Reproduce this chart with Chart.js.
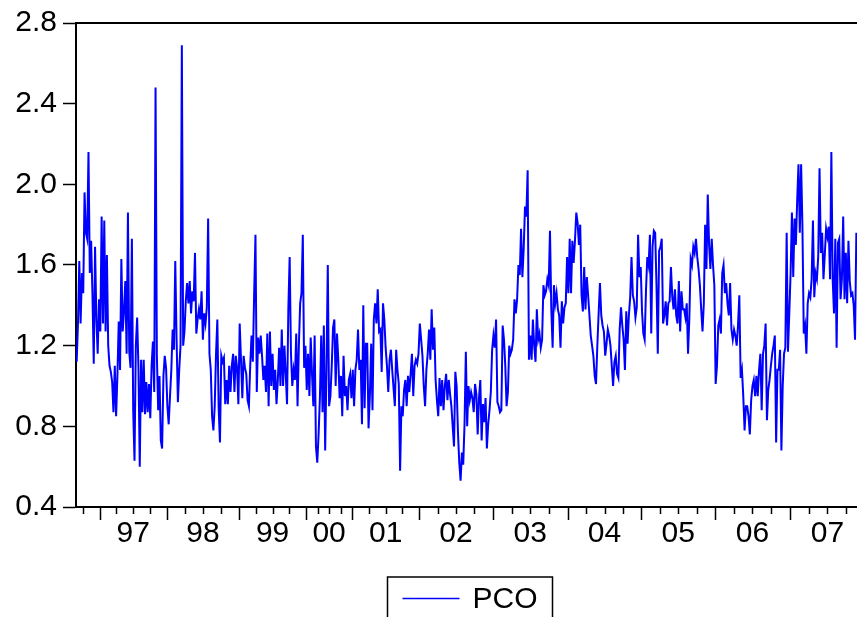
<!DOCTYPE html>
<html>
<head>
<meta charset="utf-8">
<script src="https://cdn.jsdelivr.net/npm/chart.js@4/dist/chart.umd.min.js"></script>
<style>
  html, body { margin: 0; padding: 0; background: #fff; }
</style>
</head>
<body>
<canvas id="myChart" width="857" height="617"></canvas>
<script>
// weekly PCO, one array per year (1996 and 2007 are partial)
var pco1996 = [1.12,1.31,1.62,1.31,1.56,1.46,1.96,1.76,1.73,2.16,1.56,1.72,1.46,1.11,1.69,1.33,1.16,1.43];
var pco1997 = [1.27,1.84,1.31,1.82,1.27,1.65,1.2,1.1,1.07,1.02,0.87,1.1,0.85,1.05,1.32,1.08,1.63,1.27,1.37,1.52,
  1.16,1.86,1.17,1.09,1.73,0.88,0.63,1.2,1.34,1.09,0.6,1.13,0.87,1.13,0.86,1.02,0.87,1.01,0.84,1.1,
  1.22,0.97,2.48,1.15,0.88,1.05,0.73,0.69,1.05,1.15,1.09];
var pco1998 = [0.9,0.81,0.95,1.08,1.28,1.18,1.62,1.23,0.92,1.08,1.2,2.69,1.2,1.27,1.42,1.51,1.41,1.52,1.36,1.47,
  1.42,1.66,1.26,1.33,1.38,1.33,1.47,1.23,1.36,1.31,1.39,1.83,1.16,1.08,0.85,0.78,0.9,1.16,1.33,
  0.89,0.72,1.15,1.12,1.14,0.91,1.03,0.91,1.1,0.97,1.1,1.16,0.97,1.15,1.09,0.91];
var pco1999 = [1.31,1.13,0.94,1.15,1.09,1.06,0.93,0.9,1.1,1.25,1.12,1.46,1.75,0.97,1.24,1.16,1.25,1.15,1.03,1.1,
  0.97,1.26,0.9,1.27,1.0,1.16,0.98,1.08,0.91,1.03,1.19,1.0,1.28,1.0,1.2,1.06,0.91,1.38,1.64,1.16,
  1.0,1.08,1.03,1.26,0.9,1.2,1.41,1.46,1.75,1.09,1.2];
var pco2000 = [0.98,1.16,0.95,1.24,1.06,0.9,1.25,0.7,0.62,0.76,0.94,1.25,0.87,1.3,0.68,1.08,1.6,0.9,0.95,1.1,
  1.29,1.33,1.0,1.26,1.13,0.94,1.05,0.85,1.15,0.95,1.0,0.88,1.03,1.06,0.94];
var pco2001 = [1.08,0.9,1.08,1.13,1.28,1.08,1.13,0.81,1.4,0.89,1.21,1.21,0.79,0.95,1.21,0.88,1.33,1.41,1.31,1.48,
  1.27,1.28,1.07,1.41,1.33,1.19,1.1,0.97,1.13,1.18,1.08,0.99,0.9,1.18,1.08,1.01,0.58,0.9,0.85,0.98,
  1.03,0.9,1.05,0.97,1.06,1.16,0.95,1.1,1.13,1.11,1.16];
var pco2002 = [1.31,1.23,1.15,1.0,0.9,1.08,1.16,1.28,1.13,1.38,1.18,1.29,1.03,0.93,0.85,1.04,0.9,1.03,0.88,1.0,
  1.06,0.93,1.03,0.96,0.9,0.8,0.7,1.07,1.0,0.77,0.62,0.53,0.67,0.61,0.81,1.17,0.8,1.0,0.93,0.97,
  0.94,0.87,1.01,0.96,0.76,0.94,1.03,0.73,0.91,0.82,0.94,0.69,0.81,0.88,0.97,1.18];
var pco2003 = [1.25,1.19,1.33,0.92,0.9,0.87,0.88,1.3,1.23,1.1,0.9,0.97,1.2,1.16,1.18,1.23,1.43,1.36,1.43,1.6,
  1.55,1.78,1.54,1.68,1.89,1.84,2.07,1.13,1.25,1.13,1.33,1.2,1.12,1.38,1.23,1.26,1.19,1.23,1.5,1.45,
  1.47,1.53,1.5,1.77,1.38,1.19,1.5,1.41,1.46,1.38,1.35,1.19,1.42,1.31,1.39,1.41,1.64];
var pco2004 = [1.46,1.73,1.46,1.72,1.61,1.72,1.86,1.81,1.7,1.8,1.45,1.37,1.59,1.38,1.54,1.45,1.35,1.25,1.2,1.15,
  1.05,1.01,1.2,1.36,1.51,1.35,1.3,1.27,1.15,1.21,1.28,1.25,1.2,1.1,1.0,1.12,1.15,1.06,1.04,1.28,
  1.39,1.3,1.23,1.08,1.37,1.21,1.35,1.44,1.64,1.45,1.42,1.34,1.39,1.75,1.54,1.59];
var pco2005 = [1.37,1.26,1.23,1.47,1.64,1.6,1.75,1.26,1.69,1.77,1.76,1.5,1.16,1.67,1.69,1.73,1.31,1.35,1.42,1.3,
  1.41,1.42,1.59,1.44,1.38,1.48,1.35,1.31,1.52,1.27,1.47,1.38,1.38,1.34,1.41,1.16,1.34,1.63,1.6,1.69,
  1.66,1.73,1.64,1.58,1.5,1.38,1.27,1.41,1.8,1.58,1.95,1.7,1.58,1.73,1.6,1.5];
var pco2006 = [1.01,1.1,1.3,1.33,1.26,1.56,1.6,1.46,1.51,1.41,1.35,1.51,1.28,1.23,1.28,1.25,1.2,1.3,1.45,1.04,
  1.08,0.95,0.78,0.9,0.9,0.85,0.76,0.93,1.0,1.03,0.95,1.05,0.95,1.08,1.16,0.88,1.16,1.2,1.31,0.83,
  0.98,1.03,1.1,1.16,1.2,1.25,0.72,1.08,1.08,1.18,0.68,1.0,1.16,1.19,1.76,1.17,1.36];
var pco2007 = [1.56,1.86,1.54,1.83,1.7,1.92,2.1,1.76,2.1,1.79,1.26,1.3,1.16,1.41,1.46,1.44,1.53,1.82,1.44,1.56,
  1.53,1.64,2.08,1.66,1.76,1.53,1.65,1.78,1.74,1.79,1.53,2.16,1.53,1.36,1.73,1.19,1.71,1.73,1.43,1.53,
  1.84,1.43,1.66,1.41,1.72,1.52,1.45,1.46,1.4,1.23,1.76];

var yearLabels = ['', '97', '98', '99', '00', '01', '02', '03', '04', '05', '06', '07'];
var yTicks = [0.4, 0.8, 1.2, 1.6, 2.0, 2.4, 2.8];

var series = [pco1996, pco1997, pco1998, pco1999, pco2000, pco2001, pco2002,
              pco2003, pco2004, pco2005, pco2006, pco2007];

var values = [];
var starts = [];
series.forEach(function(s) {
  starts.push(values.length);
  values = values.concat(s);
});
var N = values.length;

// first and last years are cut, so use the neighbouring year's length for a full year
function fullLen(k) {
  if (k === 0) return series[1].length;
  if (k === series.length - 1) return series[k - 1].length;
  return series[k].length;
}

var labelPos = [];
var majorTicks = [];
var minorTicks = [];
series.forEach(function(s, k) {
  var n = fullLen(k);
  var s0 = starts[k] - 0.5;
  if (k === 0) s0 = starts[1] - 0.5 - n;
  if (yearLabels[k]) labelPos.push({ value: s0 + n / 2, label: yearLabels[k] });
  if (k > 0) majorTicks.push(s0);
  for (var q = 1; q < 4; q++) {
    var v = s0 + n * q / 4;
    if (v > -0.5 && v < N - 0.5) minorTicks.push(v);
  }
});

var fontFamily = "'Liberation Sans', Arial, sans-serif";

var framePlugin = {
  id: 'frame',
  afterDraw: function(chart) {
    var ctx = chart.ctx;
    var a = chart.chartArea;
    var xs = chart.scales.x;
    ctx.save();
    ctx.strokeStyle = '#000';
    ctx.lineWidth = 2;
    ctx.beginPath();
    ctx.moveTo(a.left - 1, a.top);
    ctx.lineTo(a.right, a.top);
    ctx.stroke();

    ctx.lineWidth = 1.5;
    ctx.beginPath();
    majorTicks.forEach(function(v) {
      var px = Math.round(xs.getPixelForValue(v)) + 0.5;
      ctx.moveTo(px, a.bottom);
      ctx.lineTo(px, a.bottom + 13);
    });
    minorTicks.forEach(function(v) {
      var px = Math.round(xs.getPixelForValue(v)) + 0.5;
      ctx.moveTo(px, a.bottom);
      ctx.lineTo(px, a.bottom + 7);
    });
    ctx.stroke();

    // legend box
    var ds = chart.data.datasets[0];
    var cx = (a.left + a.right) / 2 + 3;
    var bx = cx - 82, by = 577, bw = 165, bh = 60;
    ctx.lineWidth = 1.5;
    ctx.strokeStyle = '#000';
    ctx.strokeRect(bx, by, bw, bh);
    ctx.strokeStyle = ds.borderColor;
    ctx.lineWidth = 1.5;
    ctx.beginPath();
    ctx.moveTo(bx + 15, 598.5);
    ctx.lineTo(bx + 72, 598.5);
    ctx.stroke();
    ctx.fillStyle = '#000';
    ctx.font = '30px ' + fontFamily;
    ctx.textBaseline = 'middle';
    ctx.textAlign = 'left';
    ctx.fillText(ds.label, bx + 85, 600);
    ctx.restore();
  }
};

var ctx = document.getElementById('myChart');
var myChart = new Chart(ctx, {
  type: 'line',
  data: {
    datasets: [{
      label: 'PCO',
      data: values.map(function(v, i) { return { x: i, y: v }; }),
      borderColor: '#0000ff',
      borderWidth: 2,
      pointRadius: 0,
      tension: 0,
      fill: false
    }]
  },
  options: {
    responsive: false,
    animation: false,
    devicePixelRatio: 1,
    layout: { padding: { top: 23, right: 0, bottom: 0, left: 0 } },
    plugins: {
      legend: { display: false },
      tooltip: { enabled: false }
    },
    scales: {
      x: {
        type: 'linear',
        min: -0.5,
        max: N - 0.5,
        afterBuildTicks: function(scale) {
          scale.ticks = labelPos.map(function(p) { return { value: p.value }; });
        },
        afterFit: function(scale) { scale.height = 110; },
        ticks: {
          autoSkip: false,
          maxRotation: 0,
          padding: 9,
          color: '#000',
          font: { family: fontFamily, size: 30 },
          callback: function(value, index) { return labelPos[index].label; }
        },
        grid: { drawOnChartArea: false, drawTicks: false },
        border: { color: '#000', width: 2 }
      },
      y: {
        min: 0.4,
        max: 2.8,
        afterBuildTicks: function(scale) {
          scale.ticks = yTicks.map(function(v) { return { value: v }; });
        },
        afterFit: function(scale) {
          scale.width = 76;
          scale.paddingTop = 0;
          scale.paddingBottom = 0;
        },
        ticks: {
          padding: 6,
          color: '#000',
          font: { family: fontFamily, size: 30 },
          callback: function(value) { return value.toFixed(1); }
        },
        grid: { drawOnChartArea: false, tickLength: 13, tickColor: '#000', tickWidth: 1.5 },
        border: { color: '#000', width: 2 }
      }
    }
  },
  plugins: [framePlugin]
});
</script>
</body>
</html>
